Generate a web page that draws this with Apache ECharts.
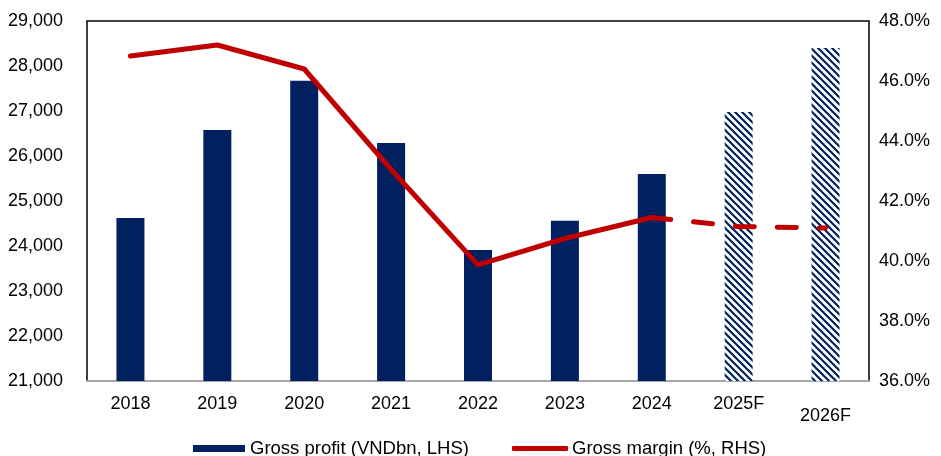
<!DOCTYPE html>
<html><head><meta charset="utf-8">
<script src="https://cdn.jsdelivr.net/npm/echarts@6/dist/echarts.min.js"></script>
<style>html,body{margin:0;padding:0;background:#fff}#c{width:941px;height:456px}</style>
</head><body><div id="c"></div>
<script>
const categories = ['2018','2019','2020','2021','2022','2023','2024','2025F','2026F'];
const grossProfit = [24620, 26580, 27670, 26290, 23910, 24560, 25600, 26980, 28400];
const grossMargin = [46.83, 47.2, 46.4, 43.05, 39.87, 40.75, 41.45, 41.15, 41.1];
const forecastFlags = [false,false,false,false,false,false,false,true,true];
const leftTicks = [21000, 29000, 1000];
const rightTicks = [36, 48, 2];

const navy = '#002060', red = '#C00000';
const pc = document.createElement('canvas');
pc.width = 7; pc.height = 7;
const g = pc.getContext('2d');
g.fillStyle = '#fff'; g.fillRect(0,0,7,7);
g.strokeStyle = navy; g.lineWidth = 2.2;
g.beginPath();
g.moveTo(-1,-1); g.lineTo(8,8);
g.moveTo(-1,6); g.lineTo(2,9);
g.moveTo(6,-1); g.lineTo(9,2);
g.stroke();

const barData = grossProfit.map((v,i)=> forecastFlags[i]
  ? {value:v, itemStyle:{color:{image:pc, repeat:'repeat'}}}
  : {value:v});
const lastActual = forecastFlags.indexOf(true) - 1;
const solid = grossMargin.map((v,i)=> i<=lastActual ? v : '-');
const dashed = grossMargin.map((v,i)=> i>=lastActual ? v : '-');

const font = 'Liberation Sans, Arial, sans-serif';
const chart = echarts.init(document.getElementById('c'));
chart.setOption({
  animation:false,
  grid:{left:87,right:72,top:21,bottom:75,show:true,borderColor:'#000',borderWidth:1.5},
  legend:[
    {data:['Gross profit (VNDbn, LHS)'],left:188,top:434,itemWidth:52,itemHeight:7,itemGap:5,
     textStyle:{fontFamily:font,fontSize:18.5,color:'#000',padding:[4,0,0,0]},icon:'rect'},
    {data:[{name:'Gross margin (%, RHS)',icon:'roundRect',itemStyle:{color:red}}],
     left:507,top:434,itemWidth:56,itemHeight:5,
     textStyle:{fontFamily:font,fontSize:18.5,color:'#000',padding:[4,0,0,-1]}}
  ],
  xAxis:{type:'category',data:categories,
    axisLine:{lineStyle:{color:'#a6a6a6',width:2}},axisTick:{show:false},
    axisLabel:{fontFamily:font,fontSize:18,color:'#000',margin:17,lineHeight:12,
      formatter:(v,i)=> i===categories.length-1 ? '\n'+v : v}},
  yAxis:[
    {type:'value',min:leftTicks[0],max:leftTicks[1],interval:leftTicks[2],
     splitLine:{show:false},axisLine:{show:false},axisTick:{show:false},
     axisLabel:{fontFamily:font,fontSize:18,color:'#000',margin:24,
       formatter:v=>v.toLocaleString('en-US')}},
    {type:'value',min:rightTicks[0],max:rightTicks[1],interval:rightTicks[2],
     splitLine:{show:false},axisLine:{show:false},axisTick:{show:false},
     axisLabel:{fontFamily:font,fontSize:18,color:'#000',margin:10,
       formatter:v=>v.toFixed(1)+'%'}}
  ],
  series:[
    {name:'Gross profit (VNDbn, LHS)',type:'bar',data:barData,barWidth:28,
     itemStyle:{color:navy}},
    {name:'Gross margin (%, RHS)',type:'line',yAxisIndex:1,data:solid,symbol:'none',
     lineStyle:{color:red,width:5,cap:'round',join:'round'},itemStyle:{color:red}},
    {name:'forecast',type:'line',yAxisIndex:1,data:dashed,symbol:'none',
     lineStyle:{color:red,width:5,type:[19,23],cap:'round'},itemStyle:{color:red}}
  ]
});
</script></body></html>
